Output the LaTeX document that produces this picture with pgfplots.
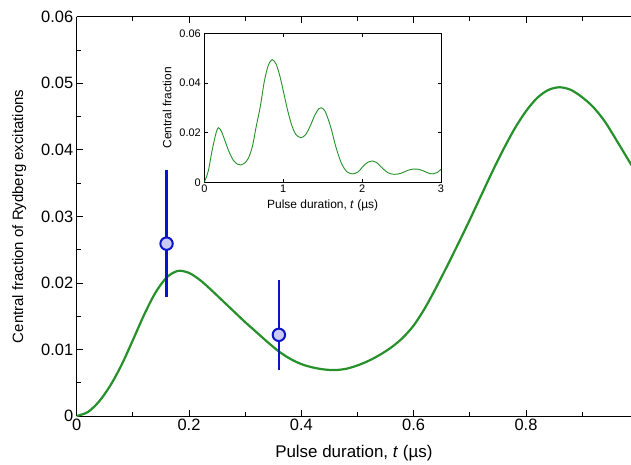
\documentclass[border=0pt]{standalone}
\usepackage{pgfplots}
\pgfplotsset{compat=1.18}
\usepackage{fontspec}
\setmainfont{Liberation Sans}
\definecolor{curvegreen}{HTML}{26912A}
\definecolor{ptblue}{HTML}{0A14C8}
\definecolor{ptfill}{HTML}{CACAF2}

\begin{document}
\begin{tikzpicture}[x=1bp,y=1bp]
\begin{axis}[
  at={(0,0)}, anchor=south west,
  scale only axis, width=554.3bp, height=399.3bp,
  xmin=0, xmax=0.987, ymin=0, ymax=0.06,
  scaled ticks=false,
  axis x line*=box, axis y line*=left,
  axis line style={line width=1pt},
  xtick={0,0.2,0.4,0.6,0.8}, xticklabels={0,0.2,0.4,0.6,0.8},
  minor xtick={0.1,0.3,0.5,0.7,0.9},
  ytick={0,0.01,0.02,0.03,0.04,0.05,0.06},
  yticklabels={0,0.01,0.02,0.03,0.04,0.05,0.06},
  minor ytick={0.005,0.015,0.025,0.035,0.045,0.055},
  tick align=inside, tick style={black, line width=0.8pt},
  major tick length=6bp, minor tick length=4bp,
  xticklabel pos=bottom, yticklabel pos=left,
  tick label style={font=\fontsize{16.5}{18}\selectfont},
  xlabel style={font=\fontsize{17}{19}\selectfont, yshift=-7bp},
  ylabel style={font=\fontsize{15}{17}\selectfont, yshift=8bp},
  xlabel={Pulse duration, \textit{t} (µs)},
  ylabel={Central fraction of Rydberg excitations},
  clip=true,
]
\addplot[curvegreen, line width=2.2bp, smooth] coordinates {
(0,0) (0.02,0.0006) (0.04,0.0022) (0.06,0.0046) (0.08,0.0077) (0.10,0.0114)
(0.12,0.0152) (0.14,0.0185) (0.16,0.0208) (0.18,0.0218) (0.20,0.0215)
(0.22,0.0204) (0.24,0.0189) (0.26,0.0173) (0.28,0.0157) (0.30,0.0141)
(0.32,0.0126) (0.34,0.0111) (0.36,0.0097) (0.38,0.0086) (0.40,0.0078)
(0.42,0.0073) (0.44,0.0070) (0.46,0.0069) (0.48,0.0071) (0.50,0.0076)
(0.52,0.0083) (0.54,0.0092) (0.56,0.0103) (0.58,0.0117) (0.60,0.0136)
(0.62,0.0162) (0.64,0.0193) (0.66,0.0226) (0.68,0.0260) (0.70,0.0295)
(0.72,0.0331) (0.74,0.0367) (0.76,0.0401) (0.78,0.0432) (0.80,0.0458)
(0.82,0.0478) (0.84,0.0490) (0.86,0.0494) (0.88,0.0490) (0.90,0.0479)
(0.92,0.0464) (0.94,0.0443) (0.96,0.0416) (0.98,0.0388) (1.00,0.0360)
};
% error bars first, then the markers on top
\addplot[draw=none, mark=none,
  error bars/.cd, y dir=both, y explicit, error mark=none,
  error bar style={ptblue, line width=2.6bp}]
  coordinates {
  (0.160,0.0259) += (0,0.0110) -= (0,0.0080)
  (0.360,0.0122) += (0,0.0083) -= (0,0.0053)
};
\addplot[only marks, mark=*, mark size=6.2bp,
  mark options={draw=ptblue, fill=ptfill, line width=2bp}]
  coordinates {(0.160,0.0259) (0.360,0.0122)};
\end{axis}

\begin{axis}[
  at={(127.6bp,233.7bp)}, anchor=south west,
  scale only axis, width=236.7bp, height=149bp,
  xmin=0, xmax=3, ymin=0, ymax=0.06,
  scaled ticks=false,
  axis line style={line width=0.8pt},
  xtick={0,1,2,3}, xticklabels={0,1,2,3},
  ytick={0,0.02,0.04,0.06}, yticklabels={0,0.02,0.04,0.06},
  tick align=inside, tick style={black, line width=0.6pt},
  major tick length=3.5bp,
  xticklabel pos=bottom, yticklabel pos=left,
  tick label style={font=\fontsize{11}{12}\selectfont},
  label style={font=\fontsize{12}{13}\selectfont},
  xlabel={Pulse duration, \textit{t} (µs)},
  ylabel={Central fraction},
  xlabel style={yshift=0bp}, ylabel style={yshift=1bp},
  xticklabel style={yshift=1bp},
  axis background/.style={fill=white},
]
\addplot[curvegreen, line width=0.9bp, smooth] coordinates {
(0,0) (0.05,0.0045) (0.10,0.0130) (0.15,0.0200) (0.18,0.0220) (0.22,0.0203)
(0.27,0.0160) (0.32,0.0118) (0.37,0.0088) (0.42,0.0073) (0.46,0.0070)
(0.51,0.0077) (0.56,0.0098) (0.61,0.0145) (0.66,0.0228) (0.71,0.0305)
(0.76,0.0405) (0.81,0.0470) (0.86,0.0494) (0.91,0.0476) (0.96,0.0425)
(1.01,0.0355) (1.06,0.0285) (1.11,0.0228) (1.16,0.0193) (1.22,0.0180)
(1.28,0.0190) (1.34,0.0225) (1.40,0.0270) (1.45,0.0296) (1.48,0.0300)
(1.53,0.0287) (1.60,0.0225) (1.67,0.0140) (1.74,0.0075) (1.81,0.0042)
(1.88,0.0034) (1.95,0.0042) (2.02,0.0067) (2.08,0.0082) (2.13,0.0086)
(2.19,0.0078) (2.26,0.0056) (2.33,0.0038) (2.41,0.0032) (2.49,0.0036)
(2.57,0.0047) (2.64,0.0053) (2.70,0.0053) (2.77,0.0047) (2.84,0.0037)
(2.90,0.0034) (2.95,0.0039) (3.00,0.0052)
};
\end{axis}
\pgfresetboundingbox
\useasboundingbox (-76.7bp,-49bp) rectangle (554.3bp,416bp);
\end{tikzpicture}
\end{document}
